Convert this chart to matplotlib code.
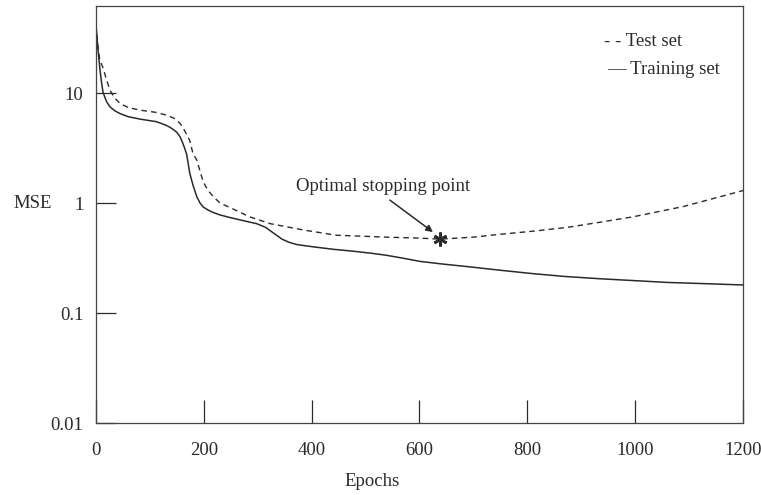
import matplotlib
matplotlib.use("Agg")
import matplotlib.pyplot as plt

plt.rcParams['font.family'] = ['Liberation Serif', 'DejaVu Serif']

# Training error per epoch
train_epochs = [0, 2, 4, 7, 10, 13, 17, 20, 26, 35, 45, 60, 82, 112, 130, 137, 145, 150,
                156, 160, 163, 168, 174, 180, 187, 193, 199, 207, 215, 230, 248, 280,
                298, 315, 330, 345, 358, 372, 403, 440, 477, 510, 539, 570, 601, 640,
                687, 750, 811, 870, 935, 1000, 1058, 1130, 1200]
train_mse = [42, 31, 24, 17, 12.8, 10.2, 9.0, 8.3, 7.5, 6.9, 6.5, 6.1, 5.8, 5.5, 5.1, 4.9,
             4.6, 4.4, 4.0, 3.6, 3.3, 2.8, 1.86, 1.45, 1.14, 1.0, 0.92, 0.87, 0.83, 0.78,
             0.74, 0.68, 0.65, 0.60, 0.53, 0.47, 0.44, 0.42, 0.40, 0.38, 0.365, 0.35, 0.335,
             0.315, 0.295, 0.28, 0.265, 0.245, 0.228, 0.215, 0.205, 0.197, 0.19, 0.185, 0.18]

# Test error per epoch
test_epochs = [0, 3, 7, 13, 20, 26, 35, 45, 60, 82, 110, 131, 145, 156, 165, 174, 180,
               187, 193, 199, 208, 218, 230, 255, 285, 323, 384, 446, 539, 601, 638, 700,
               749, 810, 873, 935, 996, 1040, 1089, 1145, 1200]
test_mse = [42, 28, 20, 17, 13, 10.6, 9.0, 8.0, 7.4, 7.0, 6.7, 6.3, 5.9, 5.3, 4.5, 3.7, 2.8,
            2.46, 1.95, 1.55, 1.3, 1.14, 1.0, 0.88, 0.75, 0.65, 0.57, 0.51, 0.49, 0.48, 0.47,
            0.49, 0.52, 0.555, 0.6, 0.67, 0.75, 0.83, 0.93, 1.1, 1.3]

# Minimum of the test error
stop_epoch = 638
stop_mse = 0.47

x_ticks = [0, 200, 400, 600, 800, 1000, 1200]
y_ticks = [0.01, 0.1, 1, 10]
y_tick_labels = ['0.01', '0.1', '1', '10']

ink = '#2a2a2a'
fs = 13.5

fig = plt.figure(figsize=(7.61, 4.95), dpi=100)
ax = fig.add_axes([96 / 761, 72 / 495, 647 / 761, 417 / 495])

ax.plot(train_epochs, train_mse, color=ink, lw=1.1)
ax.plot(test_epochs, test_mse, color=ink, lw=1.0, dashes=(4, 3))
ax.plot([stop_epoch], [stop_mse], marker=(6, 2, 0), ms=10, mew=1.9, color=ink, ls='none')

ax.set_yscale('log')
ax.set_xlim(0, 1200)
ax.set_ylim(0.01, 62)
ax.set_xticks(x_ticks)
ax.set_xticklabels([str(v) for v in x_ticks])
ax.set_yticks(y_ticks)
ax.set_yticklabels(y_tick_labels)
ax.minorticks_off()

ax.tick_params(axis='x', direction='in', length=16.5, width=0.9, color=ink,
               pad=14, labelsize=fs, labelcolor=ink)
ax.tick_params(axis='y', direction='in', length=14.4, width=0.9, color=ink,
               pad=9, labelsize=fs, labelcolor=ink)
for s in ax.spines.values():
    s.set_color('#444444')
    s.set_linewidth(0.9)

# Label and pointer to the minimum of the test curve
ax.text(0.444, 0.568, 'Optimal stopping point', transform=ax.transAxes,
        ha='center', va='center', fontsize=fs, color=ink)
ax.annotate('', xy=(625, 0.545), xytext=(545, 1.065),
            arrowprops=dict(arrowstyle='-|>', color=ink, lw=1.1,
                            mutation_scale=10, shrinkA=0, shrinkB=0))

# Legend drawn as plain text lines
ax.text(0.785, 0.915, '- - Test set', transform=ax.transAxes, fontsize=fs,
        color=ink, ha='left', va='center')
ax.text(0.79, 0.848, '\u2014 Training set', transform=ax.transAxes, fontsize=fs,
        color=ink, ha='left', va='center')

fig.text(33 / 761, 1 - 204 / 495, 'MSE', fontsize=fs, color=ink, ha='center', va='center')
fig.text(372 / 761, 1 - 482 / 495, 'Epochs', fontsize=fs, color=ink, ha='center', va='center')

fig.savefig('out.png', dpi=100)
